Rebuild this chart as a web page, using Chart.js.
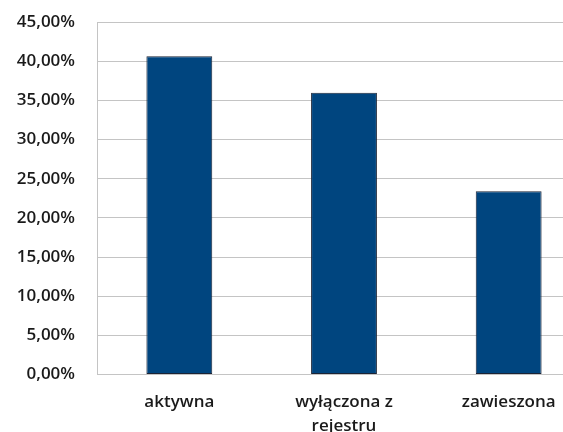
<!DOCTYPE html>
<html>
<head>
<meta charset="utf-8">
<script src="https://cdn.jsdelivr.net/npm/chart.js@4"></script>
<style>
    html, body { margin: 0; padding: 0; background: #fff; overflow: hidden; }
    #wrap { width: 600px; height: 432px; position: relative; }
</style>
</head>
<body>
<div id="wrap"><canvas id="statusChart"></canvas></div>
<script>
// Chart data
const categories = ['aktywna', ['wyłączona z', 'rejestru'], 'zawieszona'];
const shares = [40.63, 35.98, 23.39];
const yTicks = [0, 5, 10, 15, 20, 25, 30, 35, 40, 45];

// Colors
const BAR_FILL = '#00457f';
const BAR_EDGE = '#1b2436';
const GRID = '#c4c4c4';
const TEXT = '#1a1a1a';

const FONT = { family: '"Open Sans", "Liberation Sans", sans-serif', size: 17, weight: '600', lineHeight: 1.4 };

function formatPercent(value) {
    return value.toFixed(2).replace('.', ',') + '%';
}

new Chart(document.getElementById('statusChart'), {
    type: 'bar',
    data: {
        labels: categories,
        datasets: [{
            data: shares,
            backgroundColor: BAR_FILL,
            borderColor: BAR_EDGE,
            borderWidth: 1,
            borderSkipped: false,
            categoryPercentage: 1,
            barPercentage: 0.4
        }]
    },
    options: {
        responsive: true,
        maintainAspectRatio: false,
        animation: false,
        layout: {
            padding: { top: 22, right: 9, left: 0, bottom: 0 }
        },
        plugins: {
            legend: { display: false },
            tooltip: { enabled: false }
        },
        scales: {
            y: {
                min: 0,
                max: 45,
                afterBuildTicks: function(scale) {
                    scale.ticks = yTicks.map(v => ({ value: v }));
                },
                afterFit: function(scale) {
                    scale.width = 97;
                    // let the top label overhang the plot area, like the original
                    scale.paddingTop = 0;
                    scale.paddingBottom = 0;
                },
                border: { display: true, color: GRID, width: 1 },
                grid: { color: GRID, lineWidth: 1, drawTicks: false },
                ticks: {
                    color: TEXT,
                    font: FONT,
                    padding: 22,
                    callback: function(value) { return formatPercent(value); }
                }
            },
            x: {
                afterFit: function(scale) {
                    scale.height = 57.5;
                    scale.paddingLeft = 0;
                    scale.paddingRight = 0;
                },
                border: { display: true, color: GRID, width: 1 },
                grid: { display: false, drawTicks: false },
                ticks: {
                    color: TEXT,
                    font: FONT,
                    padding: 16,
                    maxRotation: 0,
                    autoSkip: false
                }
            }
        }
    }
});
</script>
</body>
</html>
